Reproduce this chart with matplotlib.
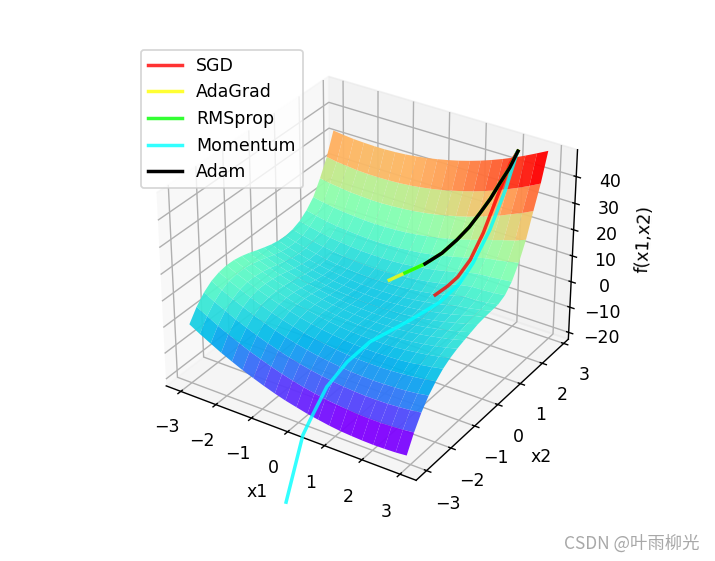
import matplotlib
matplotlib.use("Agg")
import matplotlib.pyplot as plt
import numpy as np

#Grid of the surface
x1_vals = [-3.00,-2.71,-2.41,-2.12,-1.82,-1.53,-1.23,-0.94,-0.64,-0.35,-0.05,0.25,0.54,0.84,1.13,1.43,1.72,2.02,2.31,2.61,2.90]
x2_vals = [-3.00,-2.71,-2.42,-2.13,-1.84,-1.55,-1.26,-0.97,-0.68,-0.39,-0.10,0.19,0.48,0.77,1.06,1.35,1.64,1.93,2.22,2.51,2.80]
# one row per x2 value
f_vals = [
    [0.0,-2.3,-4.5,-6.6,-8.5,-10.3,-11.9,-13.4,-14.8,-16.0,-17.0,-18.0,-18.7,-19.4,-19.9,-20.2,-20.4,-20.5,-20.4,-20.2,-19.8],
    [4.5,2.3,0.1,-1.8,-3.7,-5.4,-6.9,-8.3,-9.6,-10.7,-11.7,-12.5,-13.2,-13.7,-14.1,-14.4,-14.5,-14.5,-14.3,-14.0,-13.5],
    [7.8,5.6,3.6,1.7,0.0,-1.6,-3.1,-4.4,-5.6,-6.6,-7.5,-8.2,-8.8,-9.3,-9.6,-9.8,-9.8,-9.7,-9.4,-9.0,-8.4],
    [10.0,7.9,5.9,4.2,2.5,1.0,-0.4,-1.6,-2.7,-3.6,-4.4,-5.0,-5.5,-5.9,-6.1,-6.2,-6.1,-5.9,-5.6,-5.1,-4.4],
    [11.2,9.2,7.4,5.7,4.1,2.7,1.4,0.3,-0.7,-1.5,-2.2,-2.8,-3.2,-3.5,-3.6,-3.6,-3.4,-3.1,-2.7,-2.1,-1.4],
    [11.7,9.8,8.1,6.5,5.0,3.7,2.5,1.4,0.5,-0.2,-0.8,-1.3,-1.6,-1.8,-1.8,-1.7,-1.5,-1.1,-0.5,0.2,1.0],
    [11.6,9.8,8.1,6.6,5.2,4.0,2.9,2.0,1.2,0.5,0.0,-0.4,-0.6,-0.7,-0.7,-0.5,-0.1,0.4,1.0,1.8,2.7],
    [11.0,9.3,7.7,6.3,5.0,3.9,2.9,2.0,1.3,0.7,0.3,0.0,-0.1,-0.1,0.0,0.3,0.7,1.3,2.0,2.9,3.9],
    [10.1,8.5,7.0,5.7,4.5,3.4,2.5,1.8,1.1,0.7,0.3,0.1,0.1,0.2,0.4,0.8,1.3,2.0,2.8,3.7,4.8],
    [9.0,7.5,6.1,4.9,3.8,2.8,2.0,1.3,0.8,0.4,0.2,0.1,0.1,0.3,0.6,1.1,1.7,2.5,3.4,4.4,5.6],
    [8.0,6.5,5.3,4.1,3.1,2.2,1.5,0.9,0.5,0.2,0.0,0.0,0.2,0.4,0.9,1.4,2.1,3.0,4.0,5.1,6.4],
    [7.1,5.7,4.5,3.5,2.6,1.8,1.1,0.7,0.3,0.1,0.0,0.1,0.4,0.7,1.2,1.9,2.7,3.6,4.7,5.9,6.8],
    [6.5,5.2,4.1,3.1,2.3,1.6,1.1,0.7,0.4,0.3,0.4,0.5,0.8,1.3,1.9,2.6,3.5,4.6,5.1,6.0,7.0],
    [6.3,5.2,4.2,3.3,2.5,1.9,1.5,1.2,1.0,1.0,1.1,1.4,1.8,2.3,3.0,3.9,4.9,6.0,6.0,6.5,7.2],
    [6.8,5.7,4.8,4.0,3.4,2.9,2.5,2.3,2.2,2.3,2.5,2.9,3.4,4.0,4.8,5.7,6.8,7.6,7.7,8.0,8.5],
    [8.0,7.1,6.2,5.5,5.0,4.6,4.3,4.2,4.2,4.3,4.6,5.1,5.7,6.4,7.3,8.3,9.5,10.3,10.6,11.0,11.5],
    [10.2,9.3,8.5,7.9,7.5,7.2,7.0,6.9,7.1,7.3,7.7,8.2,8.9,9.7,10.7,11.8,13.1,14.2,14.8,15.6,16.5],
    [13.4,12.6,11.9,11.4,11.1,10.8,10.7,10.8,11.0,11.3,11.8,12.5,13.2,14.2,15.2,16.4,17.8,19.0,20.3,21.5,23.1],
    [18.8,18.1,17.6,17.1,16.9,16.7,16.7,16.9,17.2,17.6,18.2,18.9,19.8,20.8,21.9,23.2,24.7,26.2,28.0,29.8,31.8],
    [25.2,24.5,24.1,23.7,23.5,23.5,23.6,23.8,24.2,24.7,25.4,26.2,27.2,28.3,29.5,30.9,32.4,34.1,35.9,37.9,40.0],
    [33.5,33.0,32.6,32.4,32.3,32.3,32.5,32.8,33.3,33.9,34.7,35.6,36.6,37.8,39.1,40.6,42.2,44.0,45.9,48.0,50.1],
]

#Optimizer paths as x1, x2, f
adam_path = [(2.04,2.92,45.6),(1.91,2.79,39.7),(1.75,2.65,34.4),(1.60,2.49,28.9),(1.43,2.33,23.9),(1.25,2.15,18.9),(1.05,1.95,14.6),(0.78,1.73,9.8),(0.47,1.49,6.0)]
rmsprop_path = adam_path + [(0.11,1.19,3.0)]
adagrad_path = rmsprop_path + [(-0.155,0.93,0.9)]
sgd_path = [(2.04,2.92,45.6),(1.90,2.84,41.1),(1.76,2.52,30.0),(1.70,2.04,19.5),(1.62,1.62,11.9),(1.49,1.30,7.1),(1.37,1.05,4.8),(1.22,0.76,2.9)]
momentum_path = [(2.01,2.93,44.7),(1.95,2.56,33.2),(1.83,2.11,20.7),(1.72,1.58,11.4),(1.65,1.14,6.7),(1.46,0.59,2.6),(1.15,-0.19,0.1),(0.80,-1.32,-1.2),(0.60,-1.93,-5.0),(0.45,-2.52,-10.5),(0.32,-3.00,-20.0),(0.28,-3.23,-24.1),(0.23,-3.85,-45.3)]

X1, X2 = np.meshgrid(x1_vals, x2_vals)
Z = np.array(f_vals)

fig = plt.figure(figsize=(715/125, 561/125), dpi=125)
ax = fig.add_subplot(111, projection='3d', computed_zorder=False)
ax.set_position([133/715, 55/561, 462/715, 462/561])
ax.view_init(elev=31, azim=-57)
ax.plot_surface(X1, X2, Z, cmap='rainbow', alpha=0.95, rstride=1, cstride=1)
ax.autoscale(False)
ax.set_xlim(-3.42, 3.42)
ax.set_ylim(-3.42, 3.22)
ax.set_zlim(-22.7, 49.9)

lines = [(sgd_path, 'r', 0.8, 'SGD'), (adagrad_path, 'yellow', 0.8, 'AdaGrad'),
         (rmsprop_path, 'lime', 0.8, 'RMSprop'), (momentum_path, 'cyan', 0.8, 'Momentum'),
         (adam_path, 'k', 1, 'Adam')]
for path, color, alpha, name in lines:
    p = np.array(path)
    ax.plot(p[:, 0], p[:, 1], p[:, 2], color=color, alpha=alpha, lw=2, label=name)

ax.set_xlabel('x1')
ax.set_ylabel('x2')
ax.set_zlabel('f(x1,x2)')
ax.legend(loc='upper left', bbox_to_anchor=(-1/462, 1 + 3/462))
fig.text(0.978, 0.014, 'CSDN @叶雨柳光', ha='right', va='bottom', color='#a8a8a8', fontsize=10,
         family=['Noto Sans CJK SC', 'DejaVu Sans'])
fig.savefig('out.png', dpi=125)
